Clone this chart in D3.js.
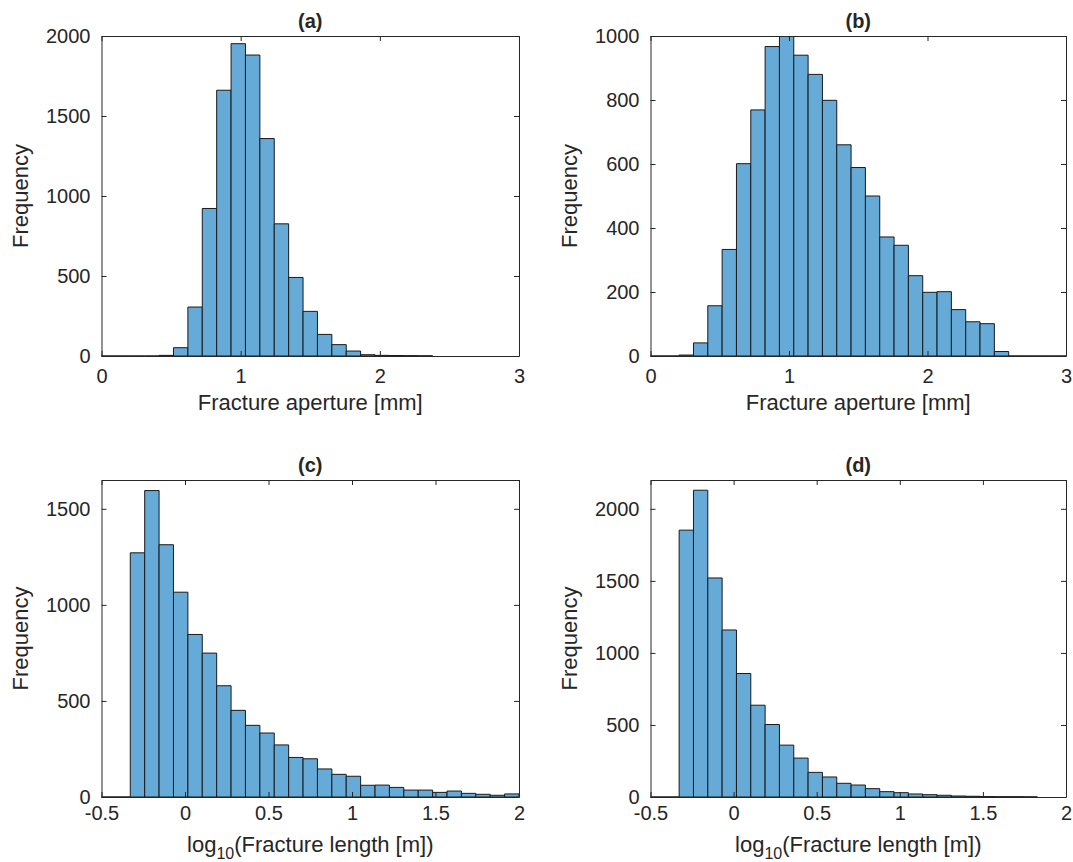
<!DOCTYPE html>
<html>
<head>
<meta charset="utf-8">
<script src="https://cdn.jsdelivr.net/npm/d3@7"></script>
<style>
  body { margin: 0; background: #fff; }
  svg text { font-family: "Liberation Sans", Arial, Helvetica, sans-serif; fill: #262626; }
</style>
</head>
<body>
<div id="chart"></div>
<script>
// histogram counts per bin (29 equal bins over each bin range)
var apertureBinRange = [0, 3];
var lengthBinRange = [-0.5, 2];
var binCount = 29;

var countsA = [0, 0, 0, 0, 4, 52, 306, 922, 1661, 1952, 1881, 1359, 826, 491, 279, 135, 71, 31, 8, 4, 3, 2, 1];
var countsB = [0, 0, 3, 41, 157, 333, 601, 769, 967, 1020, 940, 880, 799, 660, 589, 500, 372, 346, 251, 199, 201, 145, 107, 101, 14, 0, 0, 0, 0];
var countsC = [0, 0, 1271, 1595, 1313, 1066, 846, 749, 579, 451, 373, 333, 271, 206, 199, 146, 118, 108, 61, 62, 50, 36, 36, 24, 31, 19, 14, 9, 16];
var countsD = [0, 0, 1852, 2129, 1520, 1159, 857, 637, 503, 360, 270, 171, 139, 95, 83, 58, 37, 30, 21, 16, 12, 7, 5, 3, 2, 2, 1];

var xTicksAperture = [0, 1, 2, 3];
var xTicksLength = [-0.5, 0, 0.5, 1, 1.5, 2];
var yTicksA = [0, 500, 1000, 1500, 2000];
var yTicksB = [0, 200, 400, 600, 800, 1000];
var yTicksC = [0, 500, 1000, 1500];
var yTicksD = [0, 500, 1000, 1500, 2000];

var titles = ["(a)", "(b)", "(c)", "(d)"];
var yLabel = "Frequency";
var xLabelAperture = "Fracture aperture [mm]";

var W = 1073, H = 862;
var svg = d3.select("#chart").append("svg")
    .attr("width", W)
    .attr("height", H);

var panels = [
    { title: titles[0], counts: countsA, range: apertureBinRange, xDomain: [0, 3], yDomain: [0, 2000],
      xTicks: xTicksAperture, yTicks: yTicksA, box: { left: 101.5, right: 519, top: 36, bottom: 356 }, kind: "aperture" },
    { title: titles[1], counts: countsB, range: apertureBinRange, xDomain: [0, 3], yDomain: [0, 1000],
      xTicks: xTicksAperture, yTicks: yTicksB, box: { left: 650.5, right: 1066, top: 36, bottom: 356 }, kind: "aperture" },
    { title: titles[2], counts: countsC, range: lengthBinRange, xDomain: [-0.5, 2], yDomain: [0, 1650],
      xTicks: xTicksLength, yTicks: yTicksC, box: { left: 101.5, right: 519, top: 480, bottom: 797 }, kind: "length" },
    { title: titles[3], counts: countsD, range: lengthBinRange, xDomain: [-0.5, 2], yDomain: [0, 2200],
      xTicks: xTicksLength, yTicks: yTicksD, box: { left: 650.5, right: 1066, top: 480, bottom: 797 }, kind: "length" }
];

var axisColor = "#262626";
var tickLen = 5;
var plainFormat = function (d) { return String(d); }; // keep the hyphen minus like the original

panels.forEach(function (p, i) {
    var b = p.box;
    var width = b.right - b.left;
    var height = b.bottom - b.top;

    var g = svg.append("g").attr("transform", "translate(" + b.left + "," + b.top + ")");

    var x = d3.scaleLinear().domain(p.xDomain).range([0, width]);
    var y = d3.scaleLinear().domain(p.yDomain).range([height, 0]);

    // clip so the tallest bar in (b) is cut at the axis top
    var clipId = "clip" + i;
    g.append("clipPath").attr("id", clipId)
        .append("rect").attr("x", -1).attr("y", 0).attr("width", width + 2).attr("height", height + 2);

    var binW = (p.range[1] - p.range[0]) / binCount;

    // bars as paths so empty bins still show as a line on the baseline
    g.append("g")
        .attr("clip-path", "url(#" + clipId + ")")
        .selectAll("path.bar")
        .data(p.counts)
        .enter().append("path")
        .attr("class", "bar")
        .attr("fill", "#66aad7")
        .attr("stroke", "#1a1a1a")
        .attr("stroke-width", 1)
        .attr("d", function (d, k) {
            var x0 = x(p.range[0] + k * binW), x1 = x(p.range[0] + (k + 1) * binW);
            var y0 = y(0), y1 = y(d);
            return "M" + x0 + "," + y0 + "V" + y1 + "H" + x1 + "V" + y0 + "Z";
        });

    // bottom axis with inward ticks
    g.append("g")
        .attr("transform", "translate(0," + height + ")")
        .call(d3.axisBottom(x).tickValues(p.xTicks).tickSizeInner(-tickLen).tickSizeOuter(0)
            .tickPadding(p.kind === "aperture" ? 13 : 9).tickFormat(plainFormat))
        .call(function (a) {
            a.select(".domain").attr("stroke", axisColor);
            a.selectAll(".tick line").attr("stroke", axisColor);
            a.selectAll(".tick text").attr("fill", axisColor).style("font-size", "20px")
                .style("font-family", "'Liberation Sans', Arial, sans-serif");
        });

    // top axis mirror ticks
    g.append("g")
        .call(d3.axisTop(x).tickValues(p.xTicks).tickSizeInner(-tickLen).tickSizeOuter(0).tickFormat(""))
        .call(function (a) {
            a.select(".domain").attr("stroke", axisColor);
            a.selectAll(".tick line").attr("stroke", axisColor);
        });

    // left axis
    g.append("g")
        .call(d3.axisLeft(y).tickValues(p.yTicks).tickSizeInner(-tickLen).tickSizeOuter(0)
            .tickPadding(11).tickFormat(plainFormat))
        .call(function (a) {
            a.select(".domain").attr("stroke", axisColor);
            a.selectAll(".tick line").attr("stroke", axisColor);
            a.selectAll(".tick text").attr("fill", axisColor).style("font-size", "20px")
                .style("font-family", "'Liberation Sans', Arial, sans-serif");
        });

    // right axis mirror ticks
    g.append("g")
        .attr("transform", "translate(" + width + ",0)")
        .call(d3.axisRight(y).tickValues(p.yTicks).tickSizeInner(-tickLen).tickSizeOuter(0).tickFormat(""))
        .call(function (a) {
            a.select(".domain").attr("stroke", axisColor);
            a.selectAll(".tick line").attr("stroke", axisColor);
        });

    // title
    g.append("text")
        .attr("x", width / 2)
        .attr("y", -8)
        .attr("text-anchor", "middle")
        .style("font-size", "20px")
        .style("font-weight", "bold")
        .text(p.title);

    // y label
    g.append("text")
        .attr("transform", "translate(-74," + (height / 2) + ") rotate(-90)")
        .attr("text-anchor", "middle")
        .style("font-size", "22px")
        .text(yLabel);

    // x label
    if (p.kind === "aperture") {
        g.append("text")
            .attr("x", width / 2)
            .attr("y", height + 54)
            .attr("text-anchor", "middle")
            .style("font-size", "22px")
            .text(xLabelAperture);
    } else {
        var t = g.append("text")
            .attr("x", width / 2)
            .attr("y", height + 55)
            .attr("text-anchor", "middle")
            .style("font-size", "22px");
        t.append("tspan").text("log");
        t.append("tspan").attr("dy", 7).style("font-size", "16px").text("10");
        t.append("tspan").attr("dy", -7).text("(Fracture length [m])");
    }
});
</script>
</body>
</html>
